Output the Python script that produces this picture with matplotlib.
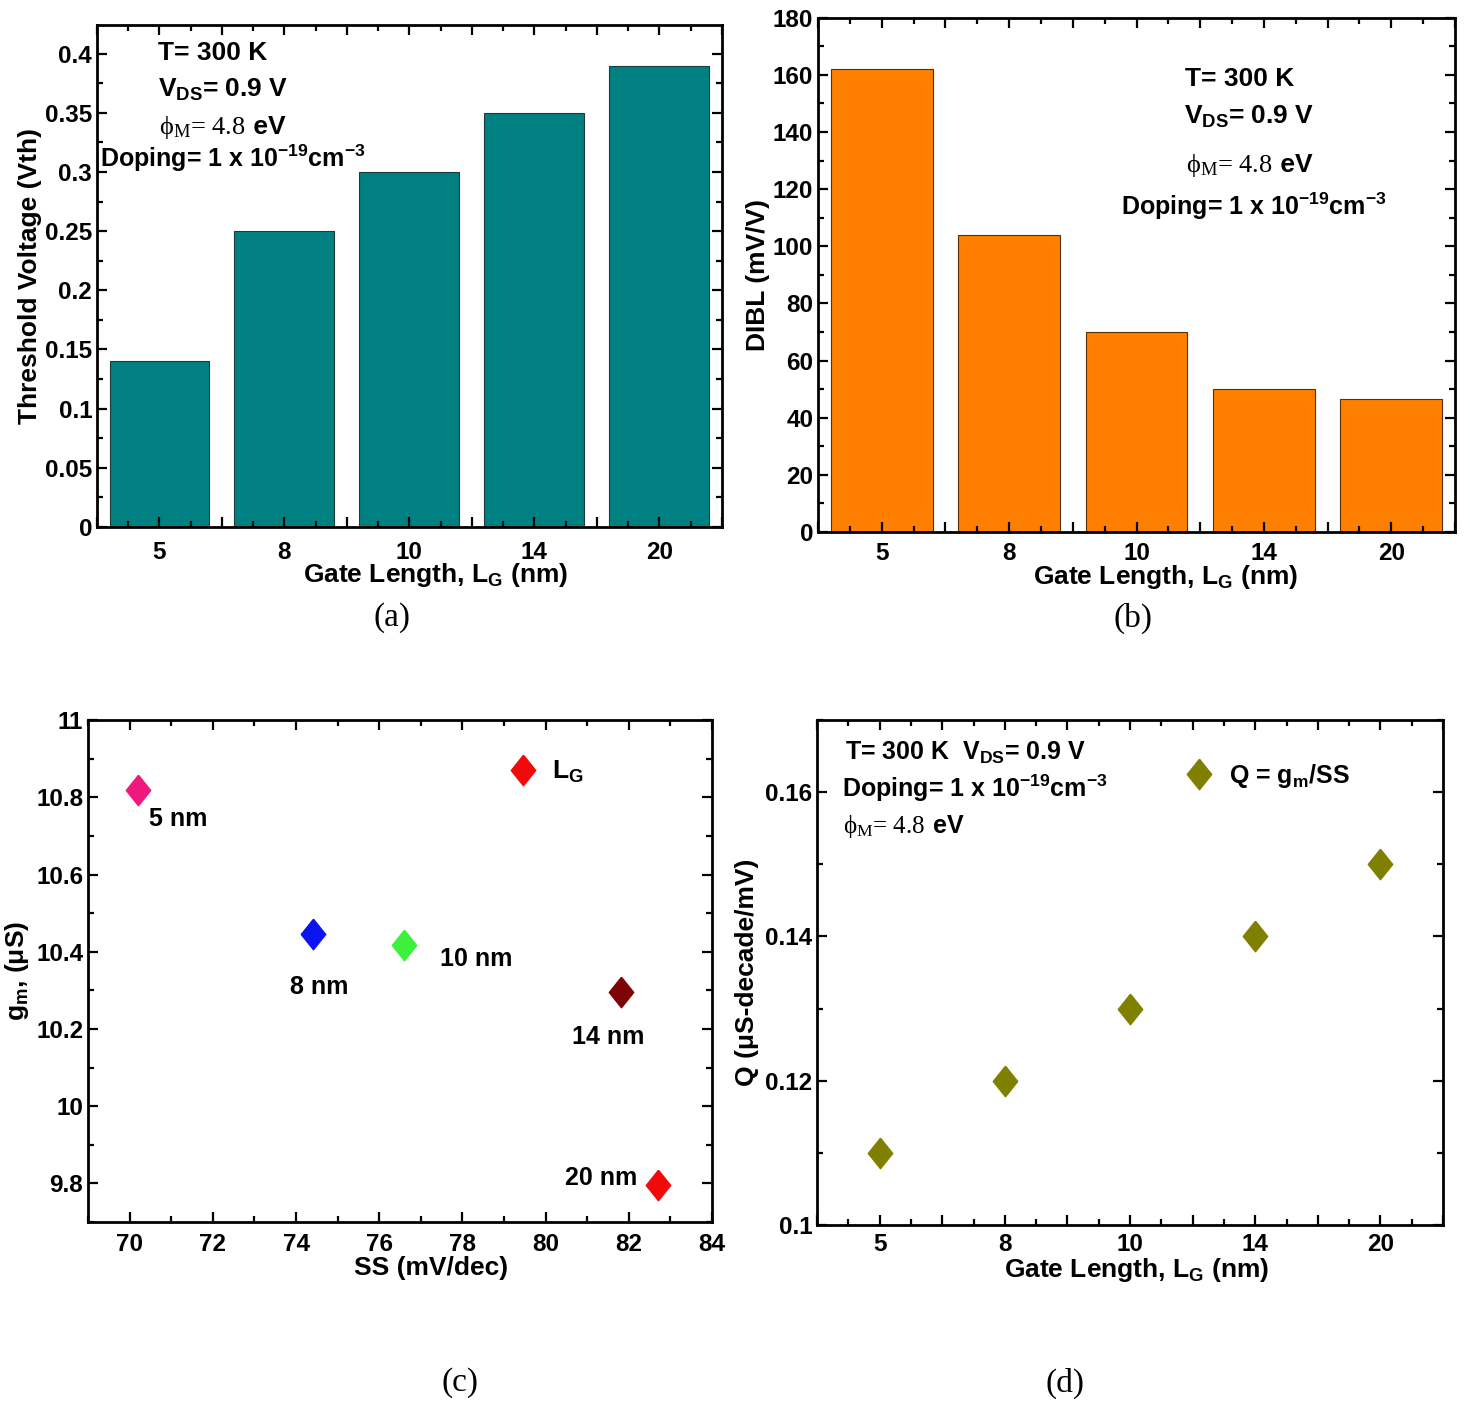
import numpy as np
import matplotlib
matplotlib.use("Agg")
import matplotlib.pyplot as plt
from matplotlib.ticker import MultipleLocator, FixedLocator, FuncFormatter

plt.rcParams["font.family"] = ["Liberation Sans", "DejaVu Sans"]
plt.rcParams["font.weight"] = "bold"
plt.rcParams["axes.labelweight"] = "bold"
plt.rcParams["mathtext.default"] = "regular"

# ---- data ----
gate_len = ["5", "8", "10", "14", "20"]
vth = [0.14, 0.25, 0.30, 0.35, 0.39]          # (a) threshold voltage, V
dibl = [162, 104, 70, 50, 46.5]               # (b) DIBL, mV/V
ss = [70.2, 74.4, 76.6, 81.8, 82.7]           # (c) SS, mV/dec
gm = [10.82, 10.445, 10.417, 10.295, 9.797]   # (c) gm, uS
q_factor = [0.11, 0.12, 0.13, 0.14, 0.15]     # (d) Q = gm/SS
gm_colors = ["#f0187c", "#0a14f0", "#3cf03c", "#7d0505", "#f00a0a"]

FS_TICK = 17.5
FS_LAB = 19
FS_NOTE = 19
DIAMOND = [(0, 1), (0.8, 0), (0, -1), (-0.8, 0), (0, 1)]

fig = plt.figure(figsize=(14.7, 14.05), dpi=100)


def style_axes(ax):
    for s in ax.spines.values():
        s.set_linewidth(2.0)
    ax.tick_params(which="both", direction="in", top=True, right=True,
                   width=1.6, labelsize=FS_TICK)
    ax.tick_params(which="major", length=7)
    ax.tick_params(which="minor", length=4)
    ax.yaxis.set_major_formatter(FuncFormatter(lambda v, p: f"{v:g}"))


def category_ticks(ax, pad):
    # labelled ticks at the categories, long ticks between them
    idx = np.arange(len(gate_len))
    ax.set_xlim(-0.5, len(gate_len) - 0.5)
    ax.xaxis.set_major_locator(FixedLocator(np.arange(-0.5, len(gate_len), 0.5)))
    ax.xaxis.set_major_formatter(FuncFormatter(
        lambda v, p: gate_len[int(round(v))] if abs(v - round(v)) < 1e-6 and 0 <= round(v) < len(gate_len) else ""))
    ax.xaxis.set_minor_locator(MultipleLocator(0.25))
    ax.tick_params(axis="x", pad=pad)
    return idx


def phi_line(ax, x, y, size=FS_NOTE):
    t = ax.text(x, y, "ϕ$_M$= 4.8", transform=ax.transAxes, fontsize=size,
                family=["Liberation Serif", "DejaVu Serif"], weight="normal",
                va="baseline")
    fig.canvas.draw()
    bb = t.get_window_extent(fig.canvas.get_renderer())
    x1 = ax.transAxes.inverted().transform((bb.x1, bb.y0))[0]
    ax.text(x1, y, " eV", transform=ax.transAxes, fontsize=size, va="baseline")


def note(ax, x, y, s, size=FS_NOTE):
    ax.text(x, y, s, transform=ax.transAxes, fontsize=size, va="baseline")


def panel_tag(x, y, s):
    fig.text(x / 1470, 1 - y / 1405, s, ha="center", va="center",
             fontsize=24, family="Liberation Serif", weight="normal")


# ---- (a) threshold voltage ----
ax = fig.add_axes([0.066, 0.625, 0.425, 0.357])
style_axes(ax)
idx = category_ticks(ax, pad=10)
ax.bar(idx, vth, width=0.8, color="#008080", edgecolor="#1c3c3c", lw=0.8)
ax.set_ylim(0, 0.424)
ax.yaxis.set_major_locator(MultipleLocator(0.05))
ax.yaxis.set_minor_locator(MultipleLocator(0.025))
ax.set_ylabel("Threshold Voltage (Vth)", fontsize=FS_LAB, labelpad=2)
ax.set_xlabel("Gate Length, L$_G$ (nm)", fontsize=FS_LAB, labelpad=-2)
ax.xaxis.label.set_x(0.542)
note(ax, 0.098, 0.93, "T= 300 K")
note(ax, 0.098, 0.857, "V$_{DS}$= 0.9 V")
phi_line(ax, 0.10, 0.783)
note(ax, 0.005, 0.717, "Doping= 1 x 10$^{-19}$cm$^{-3}$", size=18)
panel_tag(392, 618, "(a)")

# ---- (b) DIBL ----
ax = fig.add_axes([0.5565, 0.6214, 0.4333, 0.366])
style_axes(ax)
idx = category_ticks(ax, pad=7)
ax.bar(idx, dibl, width=0.8, color="#ff8000", edgecolor="#5a3000", lw=0.8)
ax.set_ylim(0, 180)
ax.yaxis.set_major_locator(MultipleLocator(20))
ax.yaxis.set_minor_locator(MultipleLocator(10))
ax.set_ylabel("DIBL (mV/V)", fontsize=FS_LAB, labelpad=2)
ax.set_xlabel("Gate Length, L$_G$ (nm)", fontsize=FS_LAB, labelpad=-1)
ax.xaxis.label.set_x(0.545)
note(ax, 0.576, 0.868, "T= 300 K")
note(ax, 0.574, 0.794, "V$_{DS}$= 0.9 V")
phi_line(ax, 0.578, 0.699)
note(ax, 0.476, 0.617, "Doping= 1 x 10$^{-19}$cm$^{-3}$", size=18)
panel_tag(1133, 618, "(b)")

# ---- (c) gm vs SS ----
ax = fig.add_axes([0.0599, 0.1302, 0.4245, 0.3573])
style_axes(ax)
ax.set_xlim(69, 84)
ax.set_ylim(9.7, 11)
ax.xaxis.set_major_locator(MultipleLocator(2))
ax.xaxis.set_minor_locator(MultipleLocator(1))
ax.yaxis.set_major_locator(MultipleLocator(0.2))
ax.yaxis.set_minor_locator(MultipleLocator(0.1))
ax.tick_params(axis="x", pad=8)
for x, y, c in zip(ss, gm, gm_colors):
    ax.plot(x, y, ls="none", marker=DIAMOND, ms=22, color=c, mec=c)
offsets = [(8, -21), (-16, -38), (26, -10), (-35, -32), (-15, 5)]
aligns = ["left", "left", "left", "left", "right"]
for x, y, lg, off, ha in zip(ss, gm, gate_len, offsets, aligns):
    ax.annotate(f"{lg} nm", (x, y), xytext=off, textcoords="offset points",
                fontsize=FS_NOTE - 1, ha=ha, va="center")
key = ax.plot([], [], ls="none", marker=DIAMOND, ms=22, color="#f00a0a",
              label="L$_G$")[0]
ax.legend(handles=[key], loc="center left", bbox_to_anchor=(0.672, 0.896),
          frameon=False, fontsize=FS_NOTE, handlelength=1.2, handletextpad=0.5,
          borderpad=0, borderaxespad=0)
ax.set_xlabel("SS (mV/dec)", fontsize=FS_LAB, labelpad=0)
ax.xaxis.label.set_x(0.55)
ax.set_ylabel("g$_m$, (μS)", fontsize=FS_LAB, labelpad=4)
panel_tag(460, 1383, "(c)")

# ---- (d) Q factor ----
ax = fig.add_axes([0.5558, 0.1281, 0.4259, 0.3594])
style_axes(ax)
idx = category_ticks(ax, pad=6)
ax.set_ylim(0.1, 0.17)
ax.yaxis.set_major_locator(MultipleLocator(0.02))
ax.yaxis.set_minor_locator(MultipleLocator(0.01))
ax.plot(idx, q_factor, ls="none", marker=DIAMOND, ms=22, color="#808000",
        label="Q = g$_m$/SS")
ax.legend(loc="center left", bbox_to_anchor=(0.586, 0.889), frameon=False,
          fontsize=FS_NOTE - 1, handlelength=1.2, handletextpad=0.6,
          borderpad=0, borderaxespad=0)
note(ax, 0.045, 0.922, "T= 300 K  V$_{DS}$= 0.9 V", size=FS_NOTE - 1)
note(ax, 0.040, 0.848, "Doping= 1 x 10$^{-19}$cm$^{-3}$", size=FS_NOTE - 1)
phi_line(ax, 0.042, 0.777, size=FS_NOTE - 1)
ax.set_xlabel("Gate Length, L$_G$ (nm)", fontsize=FS_LAB, labelpad=0)
ax.xaxis.label.set_x(0.51)
ax.set_ylabel("Q (μS-decade/mV)", fontsize=FS_LAB, labelpad=4)
panel_tag(1065, 1383, "(d)")

fig.savefig("out.png", dpi=100)
